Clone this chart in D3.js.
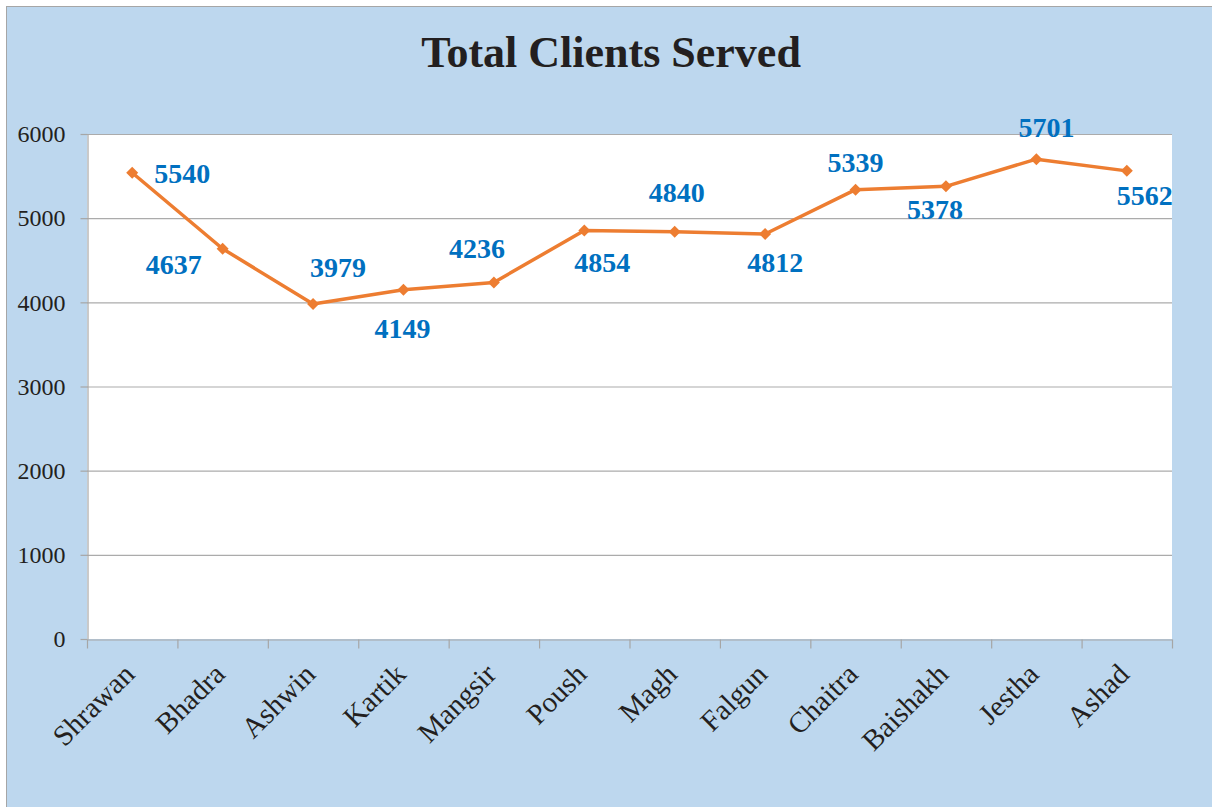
<!DOCTYPE html>
<html>
<head>
<meta charset="utf-8"/>
<script src="https://cdn.jsdelivr.net/npm/d3@7"></script>
<style>
  body { margin: 0; background: #fff; }
  svg { display: block; }
</style>
</head>
<body>
<script>

var months = ["Shrawan", "Bhadra", "Ashwin", "Kartik", "Mangsir", "Poush",
              "Magh", "Falgun", "Chaitra", "Baishakh", "Jestha", "Ashad"];
var clients = [5540, 4637, 3979, 4149, 4236, 4854, 4840, 4812, 5339, 5378, 5701, 5562];
var yTicks = [0, 1000, 2000, 3000, 4000, 5000, 6000];

// where each value label sits relative to its point (dx, baseline dy)
var labelOffsets = [[50, 10], [-49, 25], [25, -27], [-1, 48], [-17, -24], [18, 42],
                    [2, -30], [10, 38], [0, -18], [-11, 33], [10, -22], [18, 34]];

var W = 1212, H = 807;
var pLeft = 87, pRight = 1172, pTop = 134, pBottom = 639;
var serif = "Liberation Serif, Times New Roman, serif";

var svg = d3.select("body").append("svg")
  .attr("width", W)
  .attr("height", H);

// chart background + border (right/bottom edges fall outside the picture)
svg.append("rect")
  .attr("x", 6.5).attr("y", 6.5)
  .attr("width", W + 10).attr("height", H + 10)
  .attr("fill", "#BDD7EE")
  .attr("stroke", "#A6A6A6")
  .attr("stroke-width", 1);

// plot area
svg.append("rect")
  .attr("x", pLeft).attr("y", pTop)
  .attr("width", pRight - pLeft).attr("height", pBottom - pTop)
  .attr("fill", "#fff");

svg.append("text")
  .attr("x", 611).attr("y", 67)
  .attr("text-anchor", "middle")
  .attr("font-family", serif)
  .attr("font-weight", "bold")
  .attr("font-size", 44)
  .attr("fill", "#231F20")
  .text("Total Clients Served");

var x = d3.scaleBand().domain(months).range([pLeft, pRight]);
var xEdge = d3.scaleLinear().domain([0, months.length]).range([pLeft, pRight]);
var y = d3.scaleLinear().domain([0, 6000]).range([pBottom, pTop]);

// gridlines
svg.append("g")
  .selectAll("line")
  .data(yTicks.slice(1))
  .join("line")
  .attr("x1", pLeft).attr("x2", pRight)
  .attr("y1", function(d) { return y(d) + 0.5; })
  .attr("y2", function(d) { return y(d) + 0.5; })
  .attr("stroke", "#ABABAB")
  .attr("stroke-width", 1.2);

// y axis
var yAxis = svg.append("g")
  .attr("transform", "translate(" + (pLeft + 0.5) + ",0)")
  .call(d3.axisLeft(y).tickValues(yTicks).tickFormat(d3.format("d"))
    .tickSize(7).tickPadding(15).tickSizeOuter(0));
yAxis.select(".domain").attr("stroke", "#A6A6A6").attr("stroke-width", 1.2);
yAxis.selectAll(".tick line").attr("stroke", "#A6A6A6").attr("stroke-width", 1.2);
yAxis.selectAll(".tick text")
  .attr("font-family", serif)
  .attr("font-size", 24)
  .attr("fill", "#231F20");

// x axis: ticks on the category boundaries
var xAxis = svg.append("g")
  .attr("transform", "translate(0," + (pBottom + 0.5) + ")")
  .call(d3.axisBottom(xEdge).tickValues(d3.range(months.length + 1))
    .tickFormat("").tickSize(9).tickSizeOuter(0));
xAxis.select(".domain").attr("stroke", "#A6A6A6").attr("stroke-width", 1.2);
xAxis.selectAll(".tick line").attr("stroke", "#A6A6A6").attr("stroke-width", 1.2);

svg.append("g")
  .selectAll("text")
  .data(months)
  .join("text")
  .attr("transform", function(d) {
    return "translate(" + (x(d) + x.bandwidth() / 2 + 4) + ",676) rotate(-45)";
  })
  .attr("text-anchor", "end")
  .attr("font-family", serif)
  .attr("font-size", 29)
  .attr("fill", "#231F20")
  .text(function(d) { return d; });

var cx = function(d, i) { return x(months[i]) + x.bandwidth() / 2; };

svg.append("path")
  .datum(clients)
  .attr("fill", "none")
  .attr("stroke", "#ED7D31")
  .attr("stroke-width", 3.5)
  .attr("stroke-linejoin", "round")
  .attr("d", d3.line().x(cx).y(function(d) { return y(d); }));

svg.append("g")
  .selectAll("path")
  .data(clients)
  .join("path")
  .attr("d", d3.symbol(d3.symbolSquare, 72))
  .attr("transform", function(d, i) {
    return "translate(" + cx(d, i) + "," + y(d) + ") rotate(45)";
  })
  .attr("fill", "#ED7D31");

svg.append("g")
  .selectAll("text")
  .data(clients)
  .join("text")
  .attr("x", function(d, i) { return cx(d, i) + labelOffsets[i][0]; })
  .attr("y", function(d, i) { return y(d) + labelOffsets[i][1]; })
  .attr("text-anchor", "middle")
  .attr("font-family", serif)
  .attr("font-weight", "bold")
  .attr("font-size", 28)
  .attr("fill", "#0070C0")
  .text(function(d) { return d; });

</script>
</body>
</html>
